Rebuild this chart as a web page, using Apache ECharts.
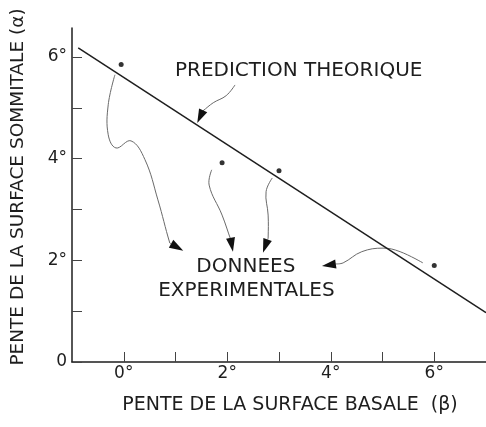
<!DOCTYPE html>
<html>
<head>
<meta charset="utf-8">
<script src="https://cdn.jsdelivr.net/npm/echarts@6/dist/echarts.min.js"></script>
<style>
  html, body { margin: 0; padding: 0; background: #fff; }
  #chart { width: 486px; height: 427px; }
</style>
</head>
<body>
<div id="chart"></div>
<script>
// donnees
var betaPoints = [-0.05, 1.9, 3.0, 6.0]
var alphaPoints = [5.85, 3.92, 3.76, 1.9]
var lineBeta = [-0.88, 7.0]
var lineAlpha = [6.18, 0.97]
var xTickValues = [0, 1, 2, 3, 4, 5, 6]
var xLabelValues = [0, 2, 4, 6]
var yTickValues = [0, 1, 2, 3, 4, 5, 6]
var yLabelValues = [0, 2, 4, 6]

var FONT = 'DejaVu Sans'
var INK = '#1e1e1e'

var myChart = echarts.init(document.getElementById('chart'))

var option = {
  animation: false,
  backgroundColor: '#fff',
  grid: { left: 72, top: 28, right: 0, bottom: 65 },
  xAxis: {
    type: 'value',
    min: -1,
    max: 7,
    name: 'PENTE DE LA SURFACE BASALE  (β)',
    nameLocation: 'middle',
    nameGap: 34,
    nameTextStyle: { fontFamily: FONT, fontSize: 19, color: INK, padding: [0, 0, 0, 22] },
    splitLine: { show: false },
    axisLine: { lineStyle: { color: INK, width: 1.5 } },
    axisTick: {
      inside: true,
      length: 10,
      customValues: xTickValues,
      lineStyle: { color: '#444', width: 1 }
    },
    axisLabel: {
      customValues: xLabelValues,
      margin: 3,
      fontFamily: FONT,
      fontSize: 17,
      color: INK,
      formatter: function (v) { return v + '°' }
    }
  },
  yAxis: {
    type: 'value',
    min: 0,
    max: 6.57,
    name: 'PENTE DE LA SURFACE SOMMITALE (α)',
    nameLocation: 'middle',
    nameGap: 44,
    nameTextStyle: { fontFamily: FONT, fontSize: 18.5, color: INK, padding: [0, 0, 0, 16] },
    splitLine: { show: false },
    axisLine: { show: true, onZero: false, lineStyle: { color: INK, width: 1.5 } },
    axisTick: {
      show: true,
      inside: true,
      length: 10,
      customValues: yTickValues,
      lineStyle: { color: '#444', width: 1 }
    },
    axisLabel: {
      customValues: yLabelValues,
      margin: 5,
      fontFamily: FONT,
      fontSize: 17,
      color: INK,
      formatter: function (v) { return v === 0 ? '0' : v + '°' }
    }
  },
  series: [
    {
      name: 'PREDICTION THEORIQUE',
      type: 'line',
      data: lineBeta.map(function (b, i) { return [b, lineAlpha[i]] }),
      showSymbol: false,
      lineStyle: { color: INK, width: 1.5 }
    },
    {
      name: 'DONNEES EXPERIMENTALES',
      type: 'scatter',
      data: betaPoints.map(function (b, i) { return [b, alphaPoints[i]] }),
      symbolSize: 5,
      itemStyle: { color: '#000' }
    }
  ]
}
myChart.setOption(option)

// fleches et textes d'annotation (en coordonnees de donnees)
var arrows = [
  { path: [[-0.17, 5.65], [-0.30, 5.06], [-0.30, 4.47], [-0.15, 4.21], [0.14, 4.35], [0.41, 3.98], [0.66, 3.19], [0.89, 2.34]], tip: [1.15, 2.19] },
  { path: [[1.70, 3.78], [1.65, 3.48], [1.90, 2.89], [2.07, 2.40]], tip: [2.11, 2.17] },
  { path: [[2.87, 3.62], [2.75, 3.35], [2.79, 2.89], [2.79, 2.44]], tip: [2.69, 2.15] },
  { path: [[5.78, 1.95], [5.34, 2.17], [5.01, 2.24], [4.60, 2.17], [4.24, 1.95]], tip: [3.83, 1.89] },
  { path: [[2.15, 5.45], [1.98, 5.24], [1.73, 5.10], [1.53, 4.94]], tip: [1.42, 4.70] }
]
var notes = [
  { text: 'PREDICTION THEORIQUE', at: [3.38, 5.73] },
  { text: 'DONNEES', at: [2.36, 1.87] },
  { text: 'EXPERIMENTALES', at: [2.37, 1.40] }
]

function toPx(p) {
  return myChart.convertToPixel({ gridIndex: 0 }, p)
}

var graphics = []
arrows.forEach(function (a) {
  var pts = a.path.map(toPx)
  var tip = toPx(a.tip)
  var last = pts[pts.length - 1]
  var dx = tip[0] - last[0]
  var dy = tip[1] - last[1]
  var len = Math.sqrt(dx * dx + dy * dy)
  var ux = dx / len
  var uy = dy / len
  var bx = tip[0] - ux * 14
  var by = tip[1] - uy * 14
  graphics.push({
    type: 'polyline',
    shape: { points: pts.concat([[bx, by]]), smooth: 0.4 },
    style: { stroke: '#6a6a6a', lineWidth: 1, fill: null }
  })
  graphics.push({
    type: 'polygon',
    shape: {
      points: [tip, [bx - uy * 4.5, by + ux * 4.5], [bx + uy * 4.5, by - ux * 4.5]]
    },
    style: { fill: '#111' }
  })
})
notes.forEach(function (n) {
  var p = toPx(n.at)
  graphics.push({
    type: 'text',
    x: p[0],
    y: p[1],
    style: {
      text: n.text,
      fontFamily: FONT,
      fontSize: 20,
      fill: INK,
      align: 'center',
      verticalAlign: 'middle'
    }
  })
})
myChart.setOption({ graphic: graphics })
</script>
</body>
</html>
